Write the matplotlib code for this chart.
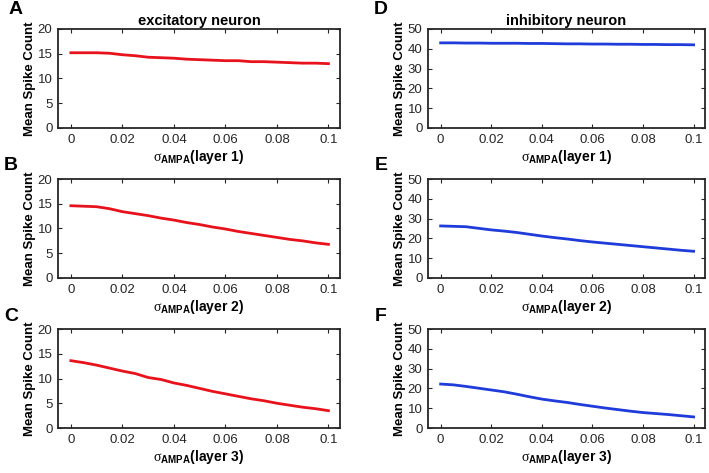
import numpy as np
import matplotlib
matplotlib.use("Agg")
import matplotlib.pyplot as plt

plt.rcParams['font.family'] = ['Liberation Sans', 'DejaVu Sans']
plt.rcParams['mathtext.fontset'] = 'custom'
plt.rcParams['mathtext.rm'] = 'Liberation Serif'
plt.rcParams['mathtext.bf'] = 'Liberation Sans:bold'
plt.rcParams['mathtext.it'] = 'Liberation Serif:italic'

# sigma_AMPA values (x axis)
sigma = [0.000, 0.005, 0.010, 0.015, 0.020, 0.025, 0.030, 0.035, 0.040, 0.045,
         0.050, 0.055, 0.060, 0.065, 0.070, 0.075, 0.080, 0.085, 0.090, 0.095, 0.100]

# excitatory neuron, layers 1-3
exc_layer1 = [15.2, 15.2, 15.2, 15.1, 14.8, 14.6, 14.3, 14.2, 14.1, 13.9, 13.8,
              13.7, 13.6, 13.6, 13.4, 13.4, 13.3, 13.2, 13.1, 13.1, 13.0]
exc_layer2 = [14.6, 14.5, 14.4, 14.0, 13.4, 13.0, 12.6, 12.1, 11.7, 11.2, 10.8,
              10.3, 9.9, 9.4, 9.0, 8.6, 8.2, 7.8, 7.5, 7.1, 6.8]
exc_layer3 = [13.6, 13.2, 12.7, 12.1, 11.5, 11.0, 10.2, 9.8, 9.1, 8.6, 8.0,
              7.4, 6.9, 6.4, 5.9, 5.5, 5.0, 4.6, 4.2, 3.9, 3.5]

# inhibitory neuron, layers 1-3
inh_layer1 = [43.0, 43.0, 42.9, 42.9, 42.8, 42.8, 42.8, 42.7, 42.7, 42.6, 42.5,
              42.5, 42.4, 42.4, 42.3, 42.3, 42.2, 42.2, 42.1, 42.1, 42.0]
inh_layer2 = [26.3, 26.1, 25.9, 25.1, 24.3, 23.7, 23.0, 22.1, 21.2, 20.4, 19.7,
              18.9, 18.2, 17.6, 17.0, 16.4, 15.8, 15.2, 14.6, 14.0, 13.5]
inh_layer3 = [22.2, 21.8, 21.0, 20.1, 19.2, 18.3, 17.1, 15.8, 14.6, 13.7, 12.9,
              11.9, 11.0, 10.1, 9.3, 8.5, 7.8, 7.3, 6.8, 6.2, 5.6]

xticks = [0, 0.02, 0.04, 0.06, 0.08, 0.1]
xticklabels = ['0', '0.02', '0.04', '0.06', '0.08', '0.1']

RED = '#e8121c'
BLUE = '#1f3bd9'
DARK = '#262626'

W, H = 709, 473
fig = plt.figure(figsize=(W / 100, H / 100), dpi=100)

def add_panel(left, right, top, bottom, x, y, color, ymax, ystep, layer, title=None):
    ax = fig.add_axes([left / W, 1 - bottom / H, (right - left) / W, (bottom - top) / H])
    ax.plot(x, y, color=color, lw=2.0)
    ax.set_xlim(-0.005, 0.1045)
    ax.set_ylim(0, ymax)
    ax.set_xticks(xticks)
    ax.set_xticklabels(xticklabels)
    ax.set_yticks(np.arange(0, ymax + 1, ystep))
    ax.tick_params(direction='in', length=3, width=0.8, top=True, right=True,
                   labelsize=9.5, colors=DARK, pad=4)
    for s in ax.spines.values():
        s.set_linewidth(1.3)
        s.set_color(DARK)
    ax.set_ylabel('Mean Spike Count', fontsize=9.5, fontweight='bold', labelpad=1)
    ax.set_xlabel(r'$\mathrm{\sigma}_{\mathbf{AMPA}}$' + '(layer %d)' % layer,
                  fontsize=10, fontweight='bold', labelpad=2)
    if title:
        ax.set_title(title, fontsize=10.5, fontweight='bold', pad=3)
    return ax

rows = [(29, 128), (179, 278), (329, 428)]
exc = [exc_layer1, exc_layer2, exc_layer3]
inh = [inh_layer1, inh_layer2, inh_layer3]
letters_l = ['A', 'B', 'C']
letters_r = ['D', 'E', 'F']
letter_x_l = [16, 11, 11]
letter_y = [10, 165, 316]

for i, (top, bottom) in enumerate(rows):
    add_panel(58, 340, top, bottom, sigma, exc[i], RED, 20, 5, i + 1,
              'excitatory neuron' if i == 0 else None)
    add_panel(428, 705, top, bottom, sigma, inh[i], BLUE, 50, 10, i + 1,
              'inhibitory neuron' if i == 0 else None)
    fig.text(letter_x_l[i] / W, 1 - letter_y[i] / H, letters_l[i], fontsize=14,
             fontweight='bold', ha='center', va='center')
    fig.text(381 / W, 1 - letter_y[i] / H, letters_r[i], fontsize=14,
             fontweight='bold', ha='center', va='center')

fig.savefig('out.png', dpi=100)
